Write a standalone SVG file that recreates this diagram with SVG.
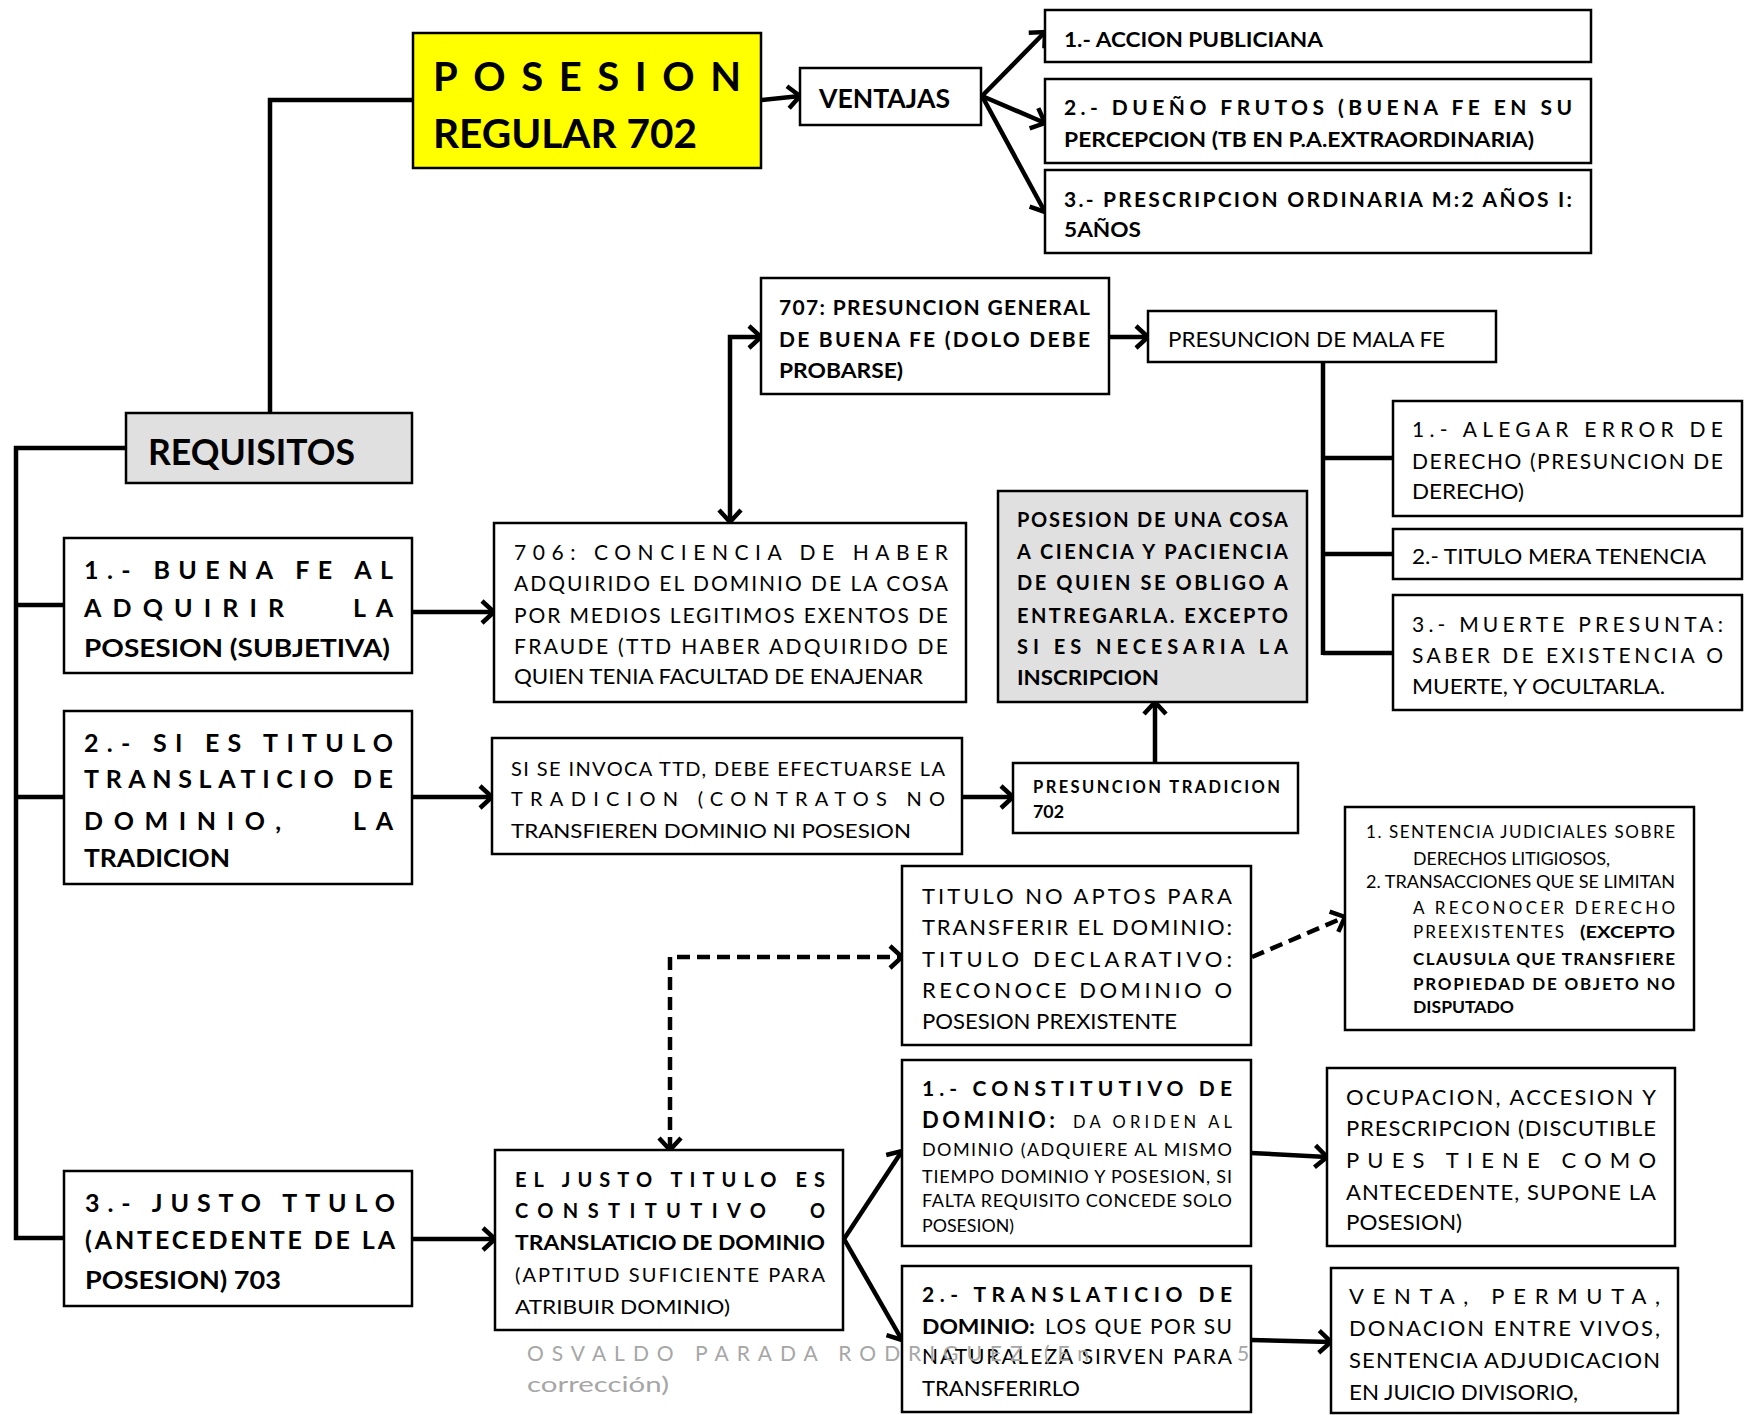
<svg xmlns="http://www.w3.org/2000/svg" width="1750" height="1415" viewBox="0 0 1750 1415">
<defs>
<style>
text{font-family:Lato,'Liberation Sans',sans-serif;fill:#000}
.box{fill:#fff;stroke:#000;stroke-width:2.5}
.gray{fill:#e0e0e0}
.yel{fill:#ffff00}
.b{font-weight:bold}
.conn{fill:none;stroke:#000;stroke-width:4.5}
.dash{stroke-dasharray:13 7}
.arr{marker-end:url(#ah)}
.arr2{marker-start:url(#ah);marker-end:url(#ah)}
.f21{font-size:21px}
.f20{font-size:20px}
.f22{font-size:22px}
.f25{font-size:25px}
.f18{font-size:18px}
.f17{font-size:17px}
.wm{fill:#a6a6a6;font-size:21px}
</style>
<marker id="ah" markerUnits="userSpaceOnUse" markerWidth="20" markerHeight="26" refX="15" refY="13" orient="auto-start-reverse" overflow="visible">
<path d="M3,2 L15,13 L3,24" fill="none" stroke="#000" stroke-width="4.5"/>
</marker>
</defs>

<g id="connectors">
<path class="conn" d="M270,413 V100 H413"/>
<path class="conn arr" d="M761,100 L800,96"/>
<path class="conn arr" d="M982,96 L1045,32"/>
<path class="conn arr" d="M982,96 L1045,123"/>
<path class="conn arr" d="M982,96 L1045,212"/>
<path class="conn" d="M126,448 H16 V1238 H64 M16,605 H64 M16,797 H64"/>
<path class="conn arr" d="M412,612 H494"/>
<path class="conn arr2" d="M730,522 V337 H761"/>
<path class="conn arr" d="M1109,337 H1148"/>
<path class="conn" d="M1323,362 V655 M1323,458 H1393 M1323,554 H1393 M1323,653 H1393"/>
<path class="conn arr" d="M412,797 H492"/>
<path class="conn arr" d="M962,797 H1013"/>
<path class="conn arr" d="M1155,763 V702"/>
<path class="conn arr" d="M412,1239 H495"/>
<path class="conn dash arr2" d="M670,1150 V957 H902"/>
<path class="conn dash arr" d="M1252,957 L1345,917"/>
<path class="conn arr" d="M844,1239 L902,1151"/>
<path class="conn arr" d="M844,1239 L902,1340"/>
<path class="conn arr" d="M1251,1153 L1327,1157"/>
<path class="conn arr" d="M1251,1340 L1331,1342"/>
</g>

<g id="posesion">
<rect class="box yel" x="413" y="33" width="348" height="135"/>
<text class="b" font-size="40" x="433" y="91" textLength="308" lengthAdjust="spacing">POSESION</text>
<text class="b" font-size="40" x="433" y="148" textLength="264" lengthAdjust="spacingAndGlyphs">REGULAR 702</text>
</g>

<g id="ventajas">
<rect class="box" x="800" y="68" width="181" height="57"/>
<text class="b" font-size="26" x="819" y="108" textLength="131" lengthAdjust="spacingAndGlyphs">VENTAJAS</text>
</g>

<g id="v1">
<rect class="box" x="1045" y="10" width="546" height="52"/>
<text class="b f21" x="1064" y="47" textLength="259" lengthAdjust="spacingAndGlyphs">1.- ACCION PUBLICIANA</text>
</g>
<g id="v2">
<rect class="box" x="1045" y="79" width="546" height="84"/>
<text class="b f21" x="1064" y="115" textLength="508" lengthAdjust="spacing">2.- DUEÑO FRUTOS (BUENA FE EN SU</text>
<text class="b f21" x="1064" y="147" textLength="470" lengthAdjust="spacingAndGlyphs">PERCEPCION (TB EN P.A.EXTRAORDINARIA)</text>
</g>
<g id="v3">
<rect class="box" x="1045" y="170" width="546" height="83"/>
<text class="b f21" x="1064" y="207" textLength="508" lengthAdjust="spacing">3.- PRESCRIPCION ORDINARIA M:2 AÑOS I:</text>
<text class="b f21" x="1064" y="237" textLength="77" lengthAdjust="spacingAndGlyphs">5AÑOS</text>
</g>

<g id="n707">
<rect class="box" x="761" y="278" width="348" height="116"/>
<text class="b f21" x="779" y="315" textLength="311" lengthAdjust="spacing">707: PRESUNCION GENERAL</text>
<text class="b f21" x="779" y="347" textLength="311" lengthAdjust="spacing">DE BUENA FE (DOLO DEBE</text>
<text class="b f21" x="779" y="378" textLength="124" lengthAdjust="spacingAndGlyphs">PROBARSE)</text>
</g>

<g id="malafe">
<rect class="box" x="1148" y="311" width="348" height="51"/>
<text class="f21" x="1168" y="347" textLength="277" lengthAdjust="spacingAndGlyphs">PRESUNCION DE MALA FE</text>
</g>

<g id="requisitos">
<rect class="box gray" x="126" y="413" width="286" height="70"/>
<text class="b" font-size="36" x="148" y="465" textLength="207" lengthAdjust="spacingAndGlyphs">REQUISITOS</text>
</g>

<g id="alegar">
<rect class="box" x="1393" y="401" width="349" height="115"/>
<text class="f21" x="1412" y="437" textLength="311" lengthAdjust="spacing">1.- ALEGAR ERROR DE</text>
<text class="f21" x="1412" y="469" textLength="311" lengthAdjust="spacing">DERECHO (PRESUNCION DE</text>
<text class="f21" x="1412" y="499" textLength="112" lengthAdjust="spacingAndGlyphs">DERECHO)</text>
</g>
<g id="mera">
<rect class="box" x="1393" y="529" width="349" height="50"/>
<text class="f21" x="1412" y="564" textLength="294" lengthAdjust="spacingAndGlyphs">2.- TITULO MERA TENENCIA</text>
</g>
<g id="muerte">
<rect class="box" x="1393" y="595" width="349" height="115"/>
<text class="f21" x="1412" y="632" textLength="311" lengthAdjust="spacing">3.- MUERTE PRESUNTA:</text>
<text class="f21" x="1412" y="663" textLength="311" lengthAdjust="spacing">SABER DE EXISTENCIA O</text>
<text class="f21" x="1412" y="694" textLength="253" lengthAdjust="spacingAndGlyphs">MUERTE, Y OCULTARLA.</text>
</g>

<g id="ciencia">
<rect class="box gray" x="998" y="491" width="309" height="211"/>
<text class="b f20" x="1017" y="527" textLength="271" lengthAdjust="spacing">POSESION DE UNA COSA</text>
<text class="b f20" x="1017" y="559" textLength="271" lengthAdjust="spacing">A CIENCIA Y PACIENCIA</text>
<text class="b f20" x="1017" y="590" textLength="271" lengthAdjust="spacing">DE QUIEN SE OBLIGO A</text>
<text class="b f20" x="1017" y="623" textLength="271" lengthAdjust="spacing">ENTREGARLA.  EXCEPTO</text>
<text class="b f20" x="1017" y="654" textLength="271" lengthAdjust="spacing">SI ES NECESARIA LA</text>
<text class="b f20" x="1017" y="685" textLength="142" lengthAdjust="spacingAndGlyphs">INSCRIPCION</text>
</g>

<g id="req1">
<rect class="box" x="64" y="538" width="348" height="135"/>
<text class="b f25" x="84" y="579" textLength="309" lengthAdjust="spacing">1.- BUENA FE AL</text>
<text class="b f25" x="84" y="617" textLength="200" lengthAdjust="spacing">ADQUIRIR</text>
<text class="b f25" x="353" y="617" textLength="40" lengthAdjust="spacing">LA</text>
<text class="b f25" x="84" y="657" textLength="306" lengthAdjust="spacingAndGlyphs">POSESION (SUBJETIVA)</text>
</g>

<g id="n706">
<rect class="box" x="494" y="523" width="472" height="179"/>
<text class="f21" x="514" y="560" textLength="434" lengthAdjust="spacing">706: CONCIENCIA DE HABER</text>
<text class="f21" x="514" y="591" textLength="434" lengthAdjust="spacing">ADQUIRIDO EL DOMINIO DE LA COSA</text>
<text class="f21" x="514" y="623" textLength="434" lengthAdjust="spacing">POR MEDIOS LEGITIMOS EXENTOS DE</text>
<text class="f21" x="514" y="654" textLength="434" lengthAdjust="spacing">FRAUDE (TTD HABER ADQUIRIDO DE</text>
<text class="f21" x="514" y="684" textLength="409" lengthAdjust="spacingAndGlyphs">QUIEN TENIA FACULTAD DE ENAJENAR</text>
</g>

<g id="req2">
<rect class="box" x="64" y="711" width="348" height="173"/>
<text class="b f25" x="84" y="752" textLength="309" lengthAdjust="spacing">2.- SI ES TITULO</text>
<text class="b f25" x="84" y="788" textLength="309" lengthAdjust="spacing">TRANSLATICIO DE</text>
<text class="b f25" x="84" y="830" textLength="197" lengthAdjust="spacing">DOMINIO,</text>
<text class="b f25" x="353" y="830" textLength="40" lengthAdjust="spacing">LA</text>
<text class="b f25" x="84" y="867" textLength="146" lengthAdjust="spacingAndGlyphs">TRADICION</text>
</g>

<g id="invoca">
<rect class="box" x="492" y="738" width="470" height="116"/>
<text class="f20" x="511" y="776" textLength="434" lengthAdjust="spacing">SI SE INVOCA TTD, DEBE EFECTUARSE LA</text>
<text class="f20" x="511" y="806" textLength="434" lengthAdjust="spacing">TRADICION (CONTRATOS NO</text>
<text class="f20" x="511" y="838" textLength="400" lengthAdjust="spacingAndGlyphs">TRANSFIEREN DOMINIO NI POSESION</text>
</g>

<g id="prestradicion">
<rect class="box" x="1013" y="763" width="285" height="70"/>
<text class="b" font-size="16.5" x="1033" y="793" textLength="247" lengthAdjust="spacing">PRESUNCION  TRADICION</text>
<text class="b" font-size="16.5" x="1033" y="818" textLength="31" lengthAdjust="spacingAndGlyphs">702</text>
</g>

<g id="sentencia">
<rect class="box" x="1345" y="807" width="349" height="223"/>
<text class="f17" x="1366" y="838" textLength="309" lengthAdjust="spacing">1. SENTENCIA  JUDICIALES  SOBRE</text>
<text class="f17" x="1413" y="865" textLength="197" lengthAdjust="spacingAndGlyphs">DERECHOS LITIGIOSOS,</text>
<text class="f17" x="1366" y="888" textLength="309" lengthAdjust="spacingAndGlyphs">2. TRANSACCIONES QUE SE LIMITAN</text>
<text class="f17" x="1413" y="914" textLength="262" lengthAdjust="spacing">A RECONOCER DERECHO</text>
<text class="f17" x="1413" y="938" textLength="151" lengthAdjust="spacing">PREEXISTENTES</text>
<text class="b f17" x="1580" y="938" textLength="95" lengthAdjust="spacingAndGlyphs">(EXCEPTO</text>
<text class="b f17" x="1413" y="965" textLength="262" lengthAdjust="spacing">CLAUSULA QUE TRANSFIERE</text>
<text class="b f17" x="1413" y="990" textLength="262" lengthAdjust="spacing">PROPIEDAD DE OBJETO NO</text>
<text class="b f17" x="1413" y="1013" textLength="101" lengthAdjust="spacingAndGlyphs">DISPUTADO</text>
</g>

<g id="noaptos">
<rect class="box" x="902" y="866" width="349" height="179"/>
<text class="f22" x="922" y="904" textLength="310" lengthAdjust="spacing">TITULO NO APTOS PARA</text>
<text class="f22" x="922" y="935" textLength="310" lengthAdjust="spacing">TRANSFERIR EL DOMINIO:</text>
<text class="f22" x="922" y="967" textLength="310" lengthAdjust="spacing">TITULO DECLARATIVO:</text>
<text class="f22" x="922" y="998" textLength="310" lengthAdjust="spacing">RECONOCE DOMINIO O</text>
<text class="f22" x="922" y="1029" textLength="255" lengthAdjust="spacingAndGlyphs">POSESION PREXISTENTE</text>
</g>

<g id="req3">
<rect class="box" x="64" y="1171" width="348" height="135"/>
<text class="b f25" x="85" y="1212" textLength="310" lengthAdjust="spacing">3.- JUSTO TTULO</text>
<text class="b f25" x="85" y="1249" textLength="310" lengthAdjust="spacing">(ANTECEDENTE DE LA</text>
<text class="b f25" x="85" y="1289" textLength="196" lengthAdjust="spacingAndGlyphs">POSESION) 703</text>
</g>

<g id="justo">
<rect class="box" x="495" y="1150" width="348" height="180"/>
<text class="b f20" x="515" y="1187" textLength="310" lengthAdjust="spacing">EL JUSTO TITULO ES</text>
<text class="b f20" x="515" y="1218" textLength="251" lengthAdjust="spacing">CONSTITUTIVO</text>
<text class="b f20" x="810" y="1218" textLength="15" lengthAdjust="spacingAndGlyphs">O</text>
<text class="b f20" x="515" y="1250" textLength="310" lengthAdjust="spacingAndGlyphs">TRANSLATICIO DE DOMINIO</text>
<text class="f20" x="515" y="1282" textLength="310" lengthAdjust="spacing">(APTITUD SUFICIENTE PARA</text>
<text class="f20" x="515" y="1314" textLength="215" lengthAdjust="spacingAndGlyphs">ATRIBUIR DOMINIO)</text>
</g>

<g id="constitutivo">
<rect class="box" x="902" y="1060" width="349" height="186"/>
<text class="b f21" x="922" y="1096" textLength="310" lengthAdjust="spacing">1.- CONSTITUTIVO DE</text>
<text class="b" font-size="22" x="922" y="1128" textLength="133" lengthAdjust="spacing">DOMINIO:</text>
<text font-size="16.5" x="1073" y="1128" textLength="159" lengthAdjust="spacing">DA ORIDEN AL</text>
<text class="f18" x="922" y="1156" textLength="310" lengthAdjust="spacing">DOMINIO (ADQUIERE AL MISMO</text>
<text class="f18" x="922" y="1183" textLength="310" lengthAdjust="spacing">TIEMPO DOMINIO Y POSESION, SI</text>
<text class="f18" x="922" y="1207" textLength="310" lengthAdjust="spacing">FALTA REQUISITO CONCEDE SOLO</text>
<text class="f18" x="922" y="1232" textLength="92" lengthAdjust="spacingAndGlyphs">POSESION)</text>
</g>

<g id="ocupacion">
<rect class="box" x="1327" y="1068" width="348" height="178"/>
<text class="f22" x="1346" y="1105" textLength="310" lengthAdjust="spacing">OCUPACION, ACCESION Y</text>
<text class="f22" x="1346" y="1136" textLength="310" lengthAdjust="spacing">PRESCRIPCION (DISCUTIBLE</text>
<text class="f22" x="1346" y="1168" textLength="310" lengthAdjust="spacing">PUES TIENE COMO</text>
<text class="f22" x="1346" y="1200" textLength="310" lengthAdjust="spacing">ANTECEDENTE, SUPONE LA</text>
<text class="f22" x="1346" y="1230" textLength="116" lengthAdjust="spacingAndGlyphs">POSESION)</text>
</g>

<g id="translaticio">
<rect class="box" x="902" y="1266" width="349" height="146"/>
<text class="b f21" x="922" y="1302" textLength="310" lengthAdjust="spacing">2.- TRANSLATICIO DE</text>
<text class="b f21" x="922" y="1334" textLength="113" lengthAdjust="spacingAndGlyphs">DOMINIO:</text>
<text class="f21" x="1045" y="1334" textLength="187" lengthAdjust="spacing">LOS QUE POR SU</text>
<text class="f21" x="922" y="1364" textLength="310" lengthAdjust="spacing">NATURALEZA SIRVEN PARA</text>
<text class="f21" x="922" y="1396" textLength="158" lengthAdjust="spacingAndGlyphs">TRANSFERIRLO</text>
</g>

<g id="venta">
<rect class="box" x="1331" y="1268" width="347" height="145"/>
<text class="f22" x="1349" y="1304" textLength="311" lengthAdjust="spacing">VENTA, PERMUTA,</text>
<text class="f22" x="1349" y="1336" textLength="311" lengthAdjust="spacing">DONACION ENTRE VIVOS,</text>
<text class="f22" x="1349" y="1368" textLength="311" lengthAdjust="spacing">SENTENCIA ADJUDICACION</text>
<text class="f22" x="1349" y="1400" textLength="229" lengthAdjust="spacingAndGlyphs">EN JUICIO DIVISORIO,</text>
</g>

<g id="footer">
<text class="wm" x="527" y="1361" textLength="562" lengthAdjust="spacing">OSVALDO PARADA RODRIGUEZ (En</text>
<text class="wm" x="1237" y="1361">5</text>
<text class="wm" x="527" y="1392" textLength="142" lengthAdjust="spacingAndGlyphs">corrección)</text>
</g>
</svg>
